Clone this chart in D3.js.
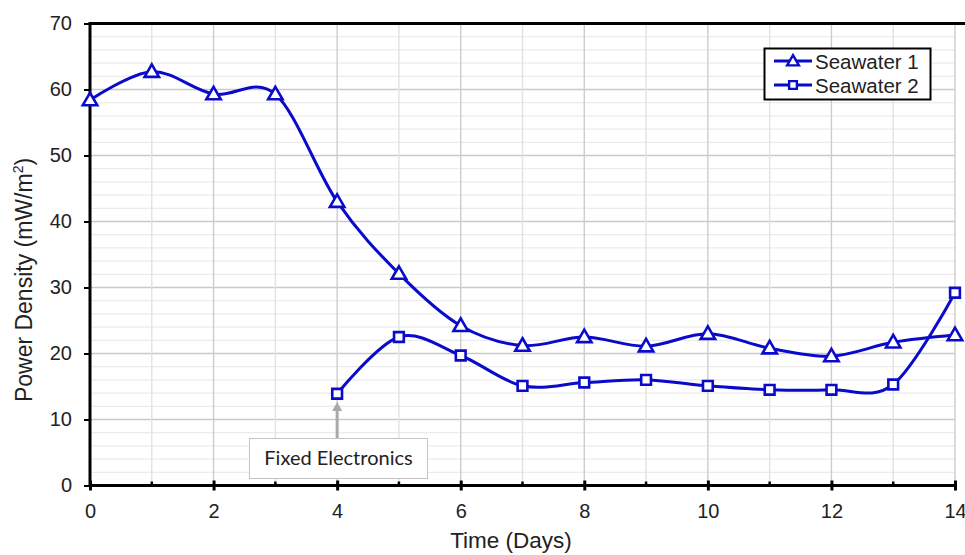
<html>
<head>
<script src="https://cdn.jsdelivr.net/npm/d3@7"></script>
<style>
  body { margin: 0; background: #fff; }
  text { font-family: "Liberation Sans", Arial, sans-serif; fill: #222; }
</style>
</head>
<body>
<script>
// chart data
var days = [0, 1, 2, 3, 4, 5, 6, 7, 8, 9, 10, 11, 12, 13, 14];
var seawater1 = [58.4, 62.7, 59.3, 59.3, 43.0, 32.1, 24.2, 21.2, 22.5, 21.1, 23.0, 20.8, 19.6, 21.7, 22.8];
var seawater2Days = [4, 5, 6, 7, 8, 9, 10, 11, 12, 13, 14];
var seawater2 = [13.9, 22.5, 19.7, 15.1, 15.6, 16.0, 15.1, 14.5, 14.5, 15.3, 29.2];
var xTicks = [0, 2, 4, 6, 8, 10, 12, 14];
var yTicks = [0, 10, 20, 30, 40, 50, 60, 70];
var seriesNames = ["Seawater 1", "Seawater 2"];

var width = 965, height = 555;
var plotLeft = 90, plotRight = 955, plotTop = 23.5, plotBottom = 485.5;
var blue = "#0a0acb";

var svg = d3.select("body").append("svg").attr("width", width).attr("height", height);

var x = d3.scaleLinear().domain([0, 14]).range([plotLeft, plotRight]);
var y = d3.scaleLinear().domain([0, 70]).range([plotBottom, plotTop]);

//grid: minor horizontal every 2, major every 10, vertical every day
svg.append("g").selectAll("line").data(d3.range(2, 70, 2).filter(function(v) { return v % 10 != 0; }))
  .enter().append("line")
  .attr("x1", plotLeft).attr("x2", plotRight)
  .attr("y1", function(d) { return y(d); }).attr("y2", function(d) { return y(d); })
  .attr("stroke", "#ebebeb").attr("stroke-width", 1.2);
svg.append("g").selectAll("line").data(yTicks.slice(1, -1))
  .enter().append("line")
  .attr("x1", plotLeft).attr("x2", plotRight)
  .attr("y1", function(d) { return y(d); }).attr("y2", function(d) { return y(d); })
  .attr("stroke", "#c9c9c9").attr("stroke-width", 1.4);
svg.append("g").selectAll("line").data(days.slice(1))
  .enter().append("line")
  .attr("x1", function(d) { return x(d); }).attr("x2", function(d) { return x(d); })
  .attr("y1", plotTop).attr("y2", plotBottom)
  .attr("stroke", function(d) { return d % 2 == 0 ? "#cdcdcd" : "#e2e2e2"; })
  .attr("stroke-width", 1.4);

// axes
var xAxis = svg.append("g").attr("transform", "translate(0," + plotBottom + ")")
  .call(d3.axisBottom(x).tickValues(xTicks).tickSize(5).tickPadding(13).tickFormat(d3.format("d")));
xAxis.select(".domain").remove();
xAxis.selectAll(".tick line").attr("y1", -5).attr("stroke", "#000").attr("stroke-width", 3);
xAxis.selectAll("text").attr("font-size", 20).attr("fill", "#222");
svg.append("g").selectAll("line").data(days.filter(function(d) { return d % 2 == 1; }))
  .enter().append("line")
  .attr("x1", function(d) { return x(d); }).attr("x2", function(d) { return x(d); })
  .attr("y1", plotBottom - 4).attr("y2", plotBottom)
  .attr("stroke", "#000").attr("stroke-width", 2.5);

var yAxis = svg.append("g").attr("transform", "translate(" + plotLeft + ",0)")
  .call(d3.axisLeft(y).tickValues(yTicks).tickSize(6).tickPadding(12));
yAxis.select(".domain").remove();
yAxis.selectAll(".tick line").attr("stroke", "#000").attr("stroke-width", 2);
yAxis.selectAll("text").attr("font-size", 20).attr("fill", "#222");

// frame lines
svg.append("line").attr("x1", plotLeft).attr("x2", plotRight + 2).attr("y1", plotBottom).attr("y2", plotBottom).attr("stroke", "#000").attr("stroke-width", 3);
svg.append("line").attr("x1", plotLeft).attr("x2", plotRight + 10).attr("y1", plotTop).attr("y2", plotTop).attr("stroke", "#000").attr("stroke-width", 3);
svg.append("line").attr("x1", plotLeft).attr("x2", plotLeft).attr("y1", plotTop - 1.5).attr("y2", plotBottom + 1.5).attr("stroke", "#000").attr("stroke-width", 3);

// axis titles
svg.append("text").attr("x", 511).attr("y", 548).attr("text-anchor", "middle")
  .attr("font-size", 22.5).text("Time (Days)");
var yt = svg.append("text").attr("transform", "translate(32,280) rotate(-90)")
  .attr("text-anchor", "middle").attr("font-size", 23);
yt.append("tspan").text("Power Density (mW/m");
yt.append("tspan").attr("font-size", 14).attr("dy", -9).text("2");
yt.append("tspan").attr("dy", 9).text(")");

// smoothed lines like the spreadsheet
var line = d3.line().curve(d3.curveCardinal.tension(0))
  .x(function(d) { return x(d[0]); }).y(function(d) { return y(d[1]); });

var pts1 = days.map(function(d, i) { return [d, seawater1[i]]; });
var pts2 = seawater2Days.map(function(d, i) { return [d, seawater2[i]]; });

svg.append("path").datum(pts1).attr("d", line).attr("fill", "none").attr("stroke", blue).attr("stroke-width", 3);
svg.append("path").datum(pts2).attr("d", line).attr("fill", "none").attr("stroke", blue).attr("stroke-width", 3);

var tri = d3.symbol().type(d3.symbolTriangle).size(90);
var sq = d3.symbol().type(d3.symbolSquare).size(95);

svg.append("g").selectAll("path").data(pts1).enter().append("path")
  .attr("d", tri)
  .attr("transform", function(d) { return "translate(" + x(d[0]) + "," + (y(d[1]) + 1) + ")"; })
  .attr("fill", "#fff").attr("stroke", blue).attr("stroke-width", 2.6);
svg.append("g").selectAll("path").data(pts2).enter().append("path")
  .attr("d", sq)
  .attr("transform", function(d) { return "translate(" + x(d[0]) + "," + y(d[1]) + ")"; })
  .attr("fill", "#fff").attr("stroke", blue).attr("stroke-width", 2.6);

// annotation
var ax = x(4);
svg.append("line").attr("x1", ax).attr("x2", ax).attr("y1", 438).attr("y2", 410)
  .attr("stroke", "#a9a9a9").attr("stroke-width", 3);
svg.append("path").attr("d", "M" + (ax - 5) + ",411 L" + ax + ",402 L" + (ax + 5) + ",411 Z").attr("fill", "#a9a9a9");
svg.append("rect").attr("x", 249.5).attr("y", 438.5).attr("width", 178).attr("height", 40)
  .attr("fill", "#fff").attr("stroke", "#c4c4c4").attr("stroke-width", 1);
svg.append("text").attr("x", 338.5).attr("y", 465).attr("text-anchor", "middle")
  .attr("font-size", 20).style("font-family", "Lato, 'Open Sans', sans-serif").text("Fixed Electronics");

// legend
var lg = svg.append("g");
lg.append("rect").attr("x", 764.5).attr("y", 48.5).attr("width", 166).attr("height", 51)
  .attr("fill", "#fff").attr("stroke", "#000").attr("stroke-width", 2);
var rows = [61, 85];
var markers = [tri, sq];
seriesNames.forEach(function(name, i) {
  lg.append("line").attr("x1", 774).attr("x2", 812).attr("y1", rows[i]).attr("y2", rows[i])
    .attr("stroke", blue).attr("stroke-width", 3);
  lg.append("path").attr("d", markers[i].size(60))
    .attr("transform", "translate(793," + (rows[i] + (i == 0 ? 1 : 0)) + ")")
    .attr("fill", "#fff").attr("stroke", blue).attr("stroke-width", 2.4);
  lg.append("text").attr("x", 815).attr("y", rows[i] + 7.5).attr("font-size", 20.5).text(name);
});
</script>
</body>
</html>
